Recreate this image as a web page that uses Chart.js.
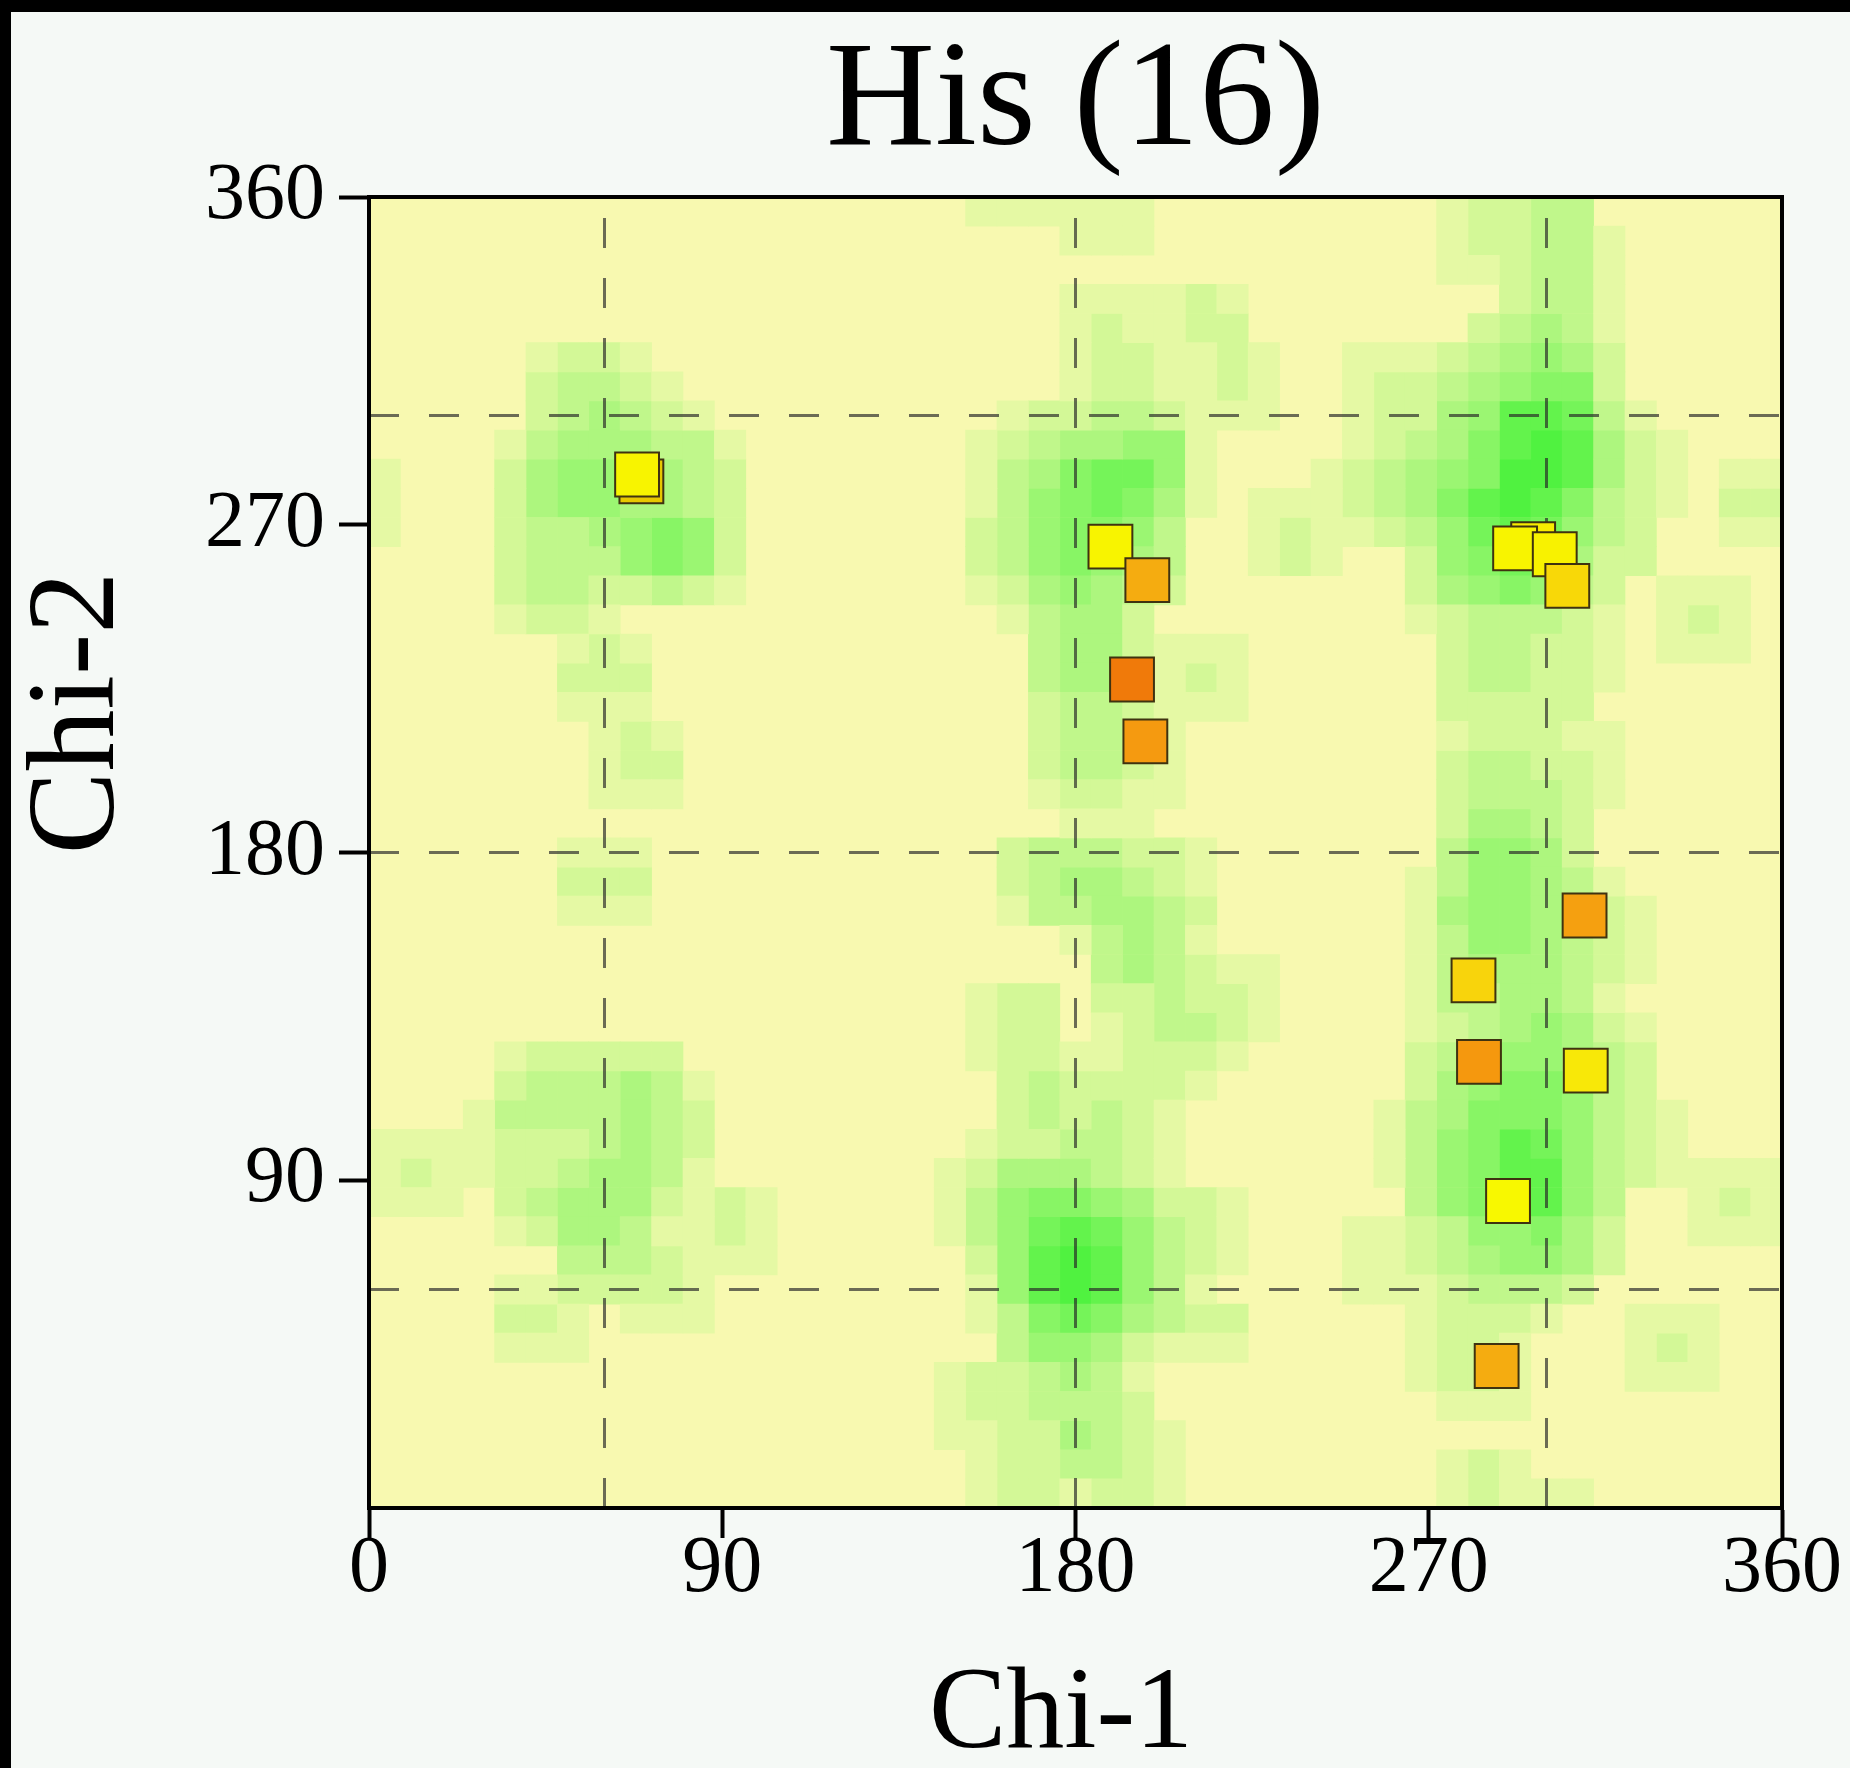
<!DOCTYPE html>
<html>
<head>
<meta charset="utf-8">
<script src="https://cdn.jsdelivr.net/npm/chart.js"></script>
<style>
  html, body { margin: 0; padding: 0; background: #000; }
  #frame { position: absolute; left: 11px; top: 12px; width: 1839px; height: 1756px; background: #f5f9f6; }
</style>
</head>
<body>
<div id="frame"><canvas id="chiChart"></canvas></div>
<script>
  const xTicks = [0, 90, 180, 270, 360];
  const yTicks = [90, 180, 270, 360];
  const refLines = [60, 180, 300];
  const cellSize = 8;

  // density grid: 45 x 45 cells of 8 deg, first row = chi-2 352..360, first char = chi-1 0..8
  const density = [
    "000000000000000000011111100000000012233000000",
    "000000000000000000000011100000000012233100000",
    "000000000000000000000000000000000011233100000",
    "000000000000000000000011112100000000233100000",
    "000000000000000000000012112200000002343100000",
    "000001221000000000000012211210011123454200000",
    "000002332100000000000012211210012234566200000",
    "000002343210000000001223321110012245887310000",
    "000013444331000000012344551000012346898421000",
    "100024555432000000013467751000123456998421011",
    "100024554432000000013567641011123468986321022",
    "100023345652000000023566530012112357875320011",
    "000023335652000000023565430012100256764220000",
    "000023322321000000012454320000000245653201110",
    "000012210000000000001344200000000123332101210",
    "000000121000000000000344211100000023322101110",
    "000000222000000000000344212100000023322100000",
    "000000111000000000000233211100000022222000000",
    "000000012100000000000233210000000012221100000",
    "000000012200000000000233210000000023322100000",
    "000000011100000000000122110000000023332100000",
    "000000000000000000000011100000000024432000000",
    "000000111000000000002333221000000035542000000",
    "000000222000000000002344321000000135543100000",
    "000000111000000000001334432000000145543210000",
    "000000000000000000000013431000000135543210000",
    "000000000000000000000003432110000134443210000",
    "000000000000000000012202232210000133443100000",
    "000000000000000000012201233210000123454210000",
    "000012222200000000012211222100000234554320000",
    "000023334310000000002322221000000245665320000",
    "000133334320000000002323210000001346665321000",
    "111122234320000000012233210000001356875321000",
    "121122344310000000124443210000001356885321111",
    "111023444212100000135665422100000356785300121",
    "000012443112100000135787532100011235564200111",
    "000000333211100000025898532100011234554200000",
    "000011222210000000015898531000011123332000000",
    "000022101110000000013676432200000122210011100",
    "000011100000000000003554211100000122100012100",
    "000000000000000000122343100000000122100011100",
    "000000000000000000122333200000000011100000000",
    "000000000000000000112243210000000000000000000",
    "000000000000000000012233210000000012100000000",
    "000000000000000000012212210000000012111000000"
  ];

  // observed side chains (chi-1, chi-2), in drawing order
  const chi1 = [69.4, 68.3, 188.9, 198.3, 194.4, 197.8, 296.6, 292.0, 302.1, 305.3, 309.7, 281.4, 282.8, 310.0, 290.2, 287.3];
  const chi2 = [281.9, 283.8, 264.0, 254.8, 227.5, 210.5, 264.7, 263.5, 261.9, 253.2, 162.7, 144.9, 122.5, 120.1, 84.3, 39.0];
  const pointColors = ["#e8c800", "#f8f400", "#f8f400", "#f5ac10", "#f07a0a", "#f59a10", "#f8ec00", "#f8f400",
                       "#f8f200", "#f8d808", "#f5a010", "#f8d40c", "#f5980e", "#f8e808", "#f8f800", "#f5ac10"];

  const palette = ["#f8f9b0", "#e5f9a4", "#d3f897", "#c0f78b", "#adf67e", "#9bf672", "#88f565", "#75f459", "#63f34c", "#50f240"];
  const serif = "'Liberation Serif', 'Times New Roman', serif";

  const levelCells = palette.map(() => []);
  density.forEach((row, r) => {
    const lo = 360 - (r + 1) * cellSize;
    [...row].forEach((ch, c) => {
      const lvl = Number(ch);
      if (lvl > 0) levelCells[lvl].push({ x: c * cellSize + cellSize / 2, y: [lo, lo + cellSize] });
    });
  });

  const datasets = [];
  datasets.push({
    type: "scatter",
    data: chi1.map((x, i) => ({ x: x, y: chi2[i] })),
    pointStyle: "rect",
    pointRadius: 31,
    pointHoverRadius: 31,
    backgroundColor: pointColors,
    borderColor: "#3f3210",
    borderWidth: 2,
    order: 0
  });
  refLines.forEach(v => {
    const dash = { type: "line", borderColor: "rgba(40,40,40,0.68)", borderWidth: 3, borderDash: [30, 30], pointRadius: 0, fill: false, order: 1 };
    datasets.push(Object.assign({}, dash, { data: [{ x: v, y: 0 }, { x: v, y: 360 }] }));
    datasets.push(Object.assign({}, dash, { data: [{ x: 0, y: v }, { x: 360, y: v }] }));
  });
  for (let lvl = 1; lvl < palette.length; lvl++) {
    if (!levelCells[lvl].length) continue;
    datasets.push({
      type: "bar",
      data: levelCells[lvl],
      backgroundColor: palette[lvl],
      borderWidth: 0,
      grouped: false,
      barPercentage: 1,
      categoryPercentage: 1,
      order: 3
    });
  }

  const plotFrame = {
    id: "plotFrame",
    beforeDatasetsDraw(chart) {
      const a = chart.chartArea, c = chart.ctx;
      c.save();
      c.fillStyle = palette[0];
      c.fillRect(a.left, a.top, a.right - a.left, a.bottom - a.top);
      c.restore();
    },
    afterDraw(chart) {
      const a = chart.chartArea, c = chart.ctx;
      c.save();
      c.strokeStyle = "#000";
      c.lineWidth = 4;
      c.strokeRect(a.left, a.top, a.right - a.left, a.bottom - a.top);
      c.restore();
    }
  };

  const axisTicks = { drawOnChartArea: false, drawTicks: true, tickLength: 30, tickWidth: 4, tickColor: "#000", offset: false, z: 1 };

  new Chart(document.getElementById("chiChart"), {
    type: "bar",
    data: { datasets: datasets },
    plugins: [plotFrame],
    options: {
      responsive: true,
      maintainAspectRatio: false,
      animation: false,
      events: [],
      layout: { padding: { left: 0, right: 68, top: 0, bottom: 0 } },
      plugins: {
        legend: { display: false },
        tooltip: { enabled: false },
        title: {
          display: true,
          text: "His (16)",
          fullSize: false,
          color: "#000",
          font: { family: serif, size: 151, weight: "normal", lineHeight: 1 },
          padding: { top: 17, bottom: 17 }
        }
      },
      scales: {
        x: {
          type: "linear",
          min: 0,
          max: 360,
          offset: false,
          afterBuildTicks: s => { s.ticks = xTicks.map(v => ({ value: v })); },
          afterFit: s => { s.height = 260; },
          ticks: { color: "#000", padding: 0, autoSkip: false, maxRotation: 0, font: { family: serif, size: 80, lineHeight: 0.8 } },
          grid: axisTicks,
          border: { display: true, color: "#000", width: 4, z: 1 },
          title: { display: true, text: "Chi-1 ", color: "#000", padding: { top: 0, bottom: 0 }, font: { family: serif, size: 116, lineHeight: 0.88 } }
        },
        y: {
          type: "linear",
          min: 0,
          max: 360,
          afterBuildTicks: s => { s.ticks = yTicks.map(v => ({ value: v })); },
          afterFit: s => { s.width = 358; },
          ticks: { color: "#000", padding: 14, autoSkip: false, font: { family: serif, size: 80, lineHeight: 1 } },
          grid: axisTicks,
          border: { display: true, color: "#000", width: 4, z: 1 },
          title: { display: true, text: "         Chi-2", color: "#000", padding: { top: 7, bottom: 0 }, font: { family: serif, size: 124, lineHeight: 1 } }
        }
      }
    }
  });
</script>
</body>
</html>
